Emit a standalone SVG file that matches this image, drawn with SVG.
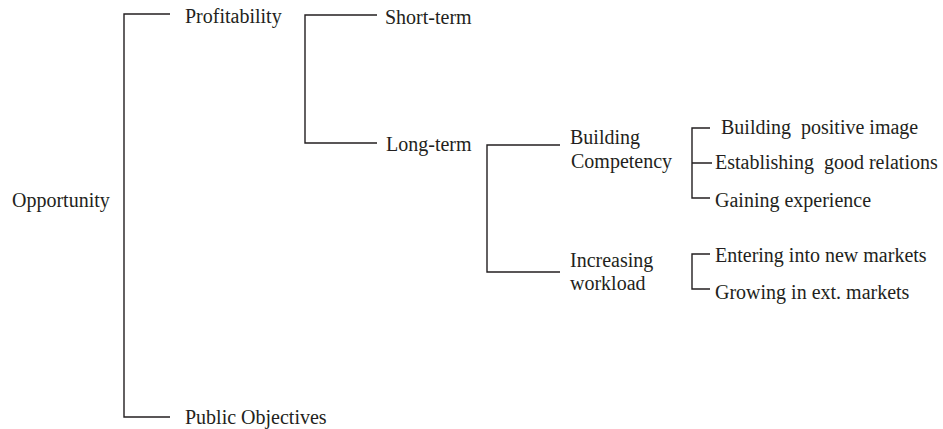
<svg xmlns="http://www.w3.org/2000/svg" width="943" height="429" viewBox="0 0 943 429">
<style>
.t{font-family:"Liberation Serif","Times New Roman",serif;font-size:20px;fill:#231f20}
.c{fill:none;stroke:#231f20;stroke-width:1.4}
</style>
<rect width="943" height="429" fill="#fff"/>
<g id="connectors">
<path class="c" d="M170,14 H124 V417 H170"/>
<path class="c" d="M377,15 H305 V143 H377"/>
<path class="c" d="M560,145 H487 V272 H560"/>
<path class="c" d="M710,128 H692 V198 H710 M692,163 H712"/>
<path class="c" d="M710,254 H692 V289 H710"/>
</g>
<g id="opportunity"><text class="t" x="12" y="207">Opportunity</text></g>
<g id="profitability"><text class="t" x="185" y="23">Profitability</text></g>
<g id="public-objectives"><text class="t" x="185" y="424">Public Objectives</text></g>
<g id="short-term"><text class="t" x="385" y="24">Short-term</text></g>
<g id="long-term"><text class="t" x="386" y="151">Long-term</text></g>
<g id="building-competency"><text class="t" x="570" y="144">Building</text><text class="t" x="571" y="168">Competency</text></g>
<g id="increasing-workload"><text class="t" x="570" y="267">Increasing</text><text class="t" x="570" y="290">workload</text></g>
<g id="building-positive-image"><text class="t" x="721" y="134" xml:space="preserve">Building  positive image</text></g>
<g id="establishing-good-relations"><text class="t" x="715" y="169" xml:space="preserve">Establishing  good relations</text></g>
<g id="gaining-experience"><text class="t" x="715" y="207">Gaining experience</text></g>
<g id="entering-new-markets"><text class="t" x="715" y="262">Entering into new markets</text></g>
<g id="growing-ext-markets"><text class="t" x="715" y="299">Growing in ext. markets</text></g>
</svg>
